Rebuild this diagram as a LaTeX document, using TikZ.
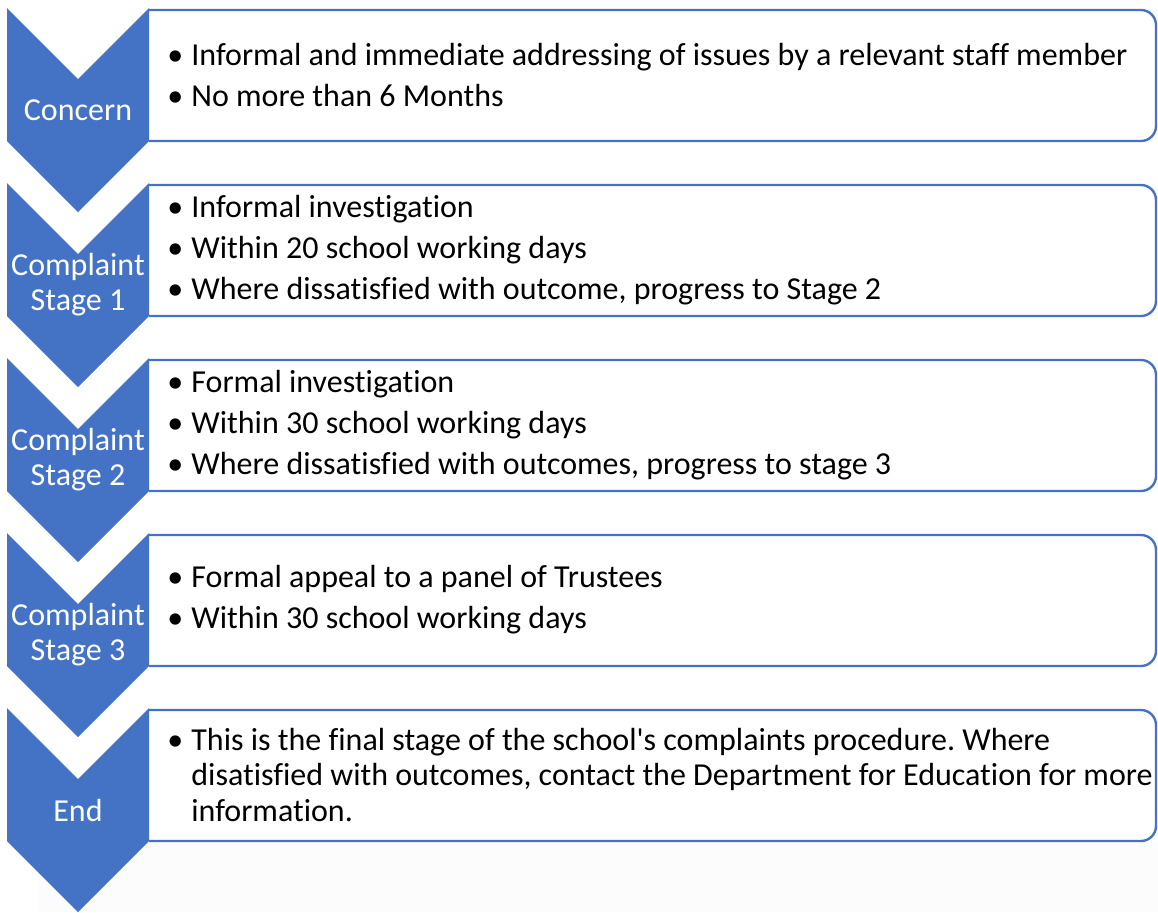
\documentclass[tikz,border=0pt]{standalone}
\usepackage{fontspec}
\setmainfont{Carlito}[Ligatures={NoCommon}]
\usetikzlibrary{positioning}
\definecolor{stageblue}{HTML}{4472C4}
\definecolor{pagegrey}{HTML}{FCFCFC}
\def\stagechevron(#1){\fill[stageblue] (7,#1) -- (78,#1+71) -- (149,#1) -- (149,#1+133) -- (78,#1+204) -- (7,#1+133) -- cycle;}
\def\stagebox(#1){\draw[stageblue, line width=1.2pt, rounded corners=7.5pt] (149,#1+2) -- (1156,#1+2) -- (1156,#1+133) -- (149,#1+133);}
\newcommand\bl{\makebox[12pt][l]{\textbullet}}
\frenchspacing

\begin{document}
\begin{tikzpicture}[x=0.5pt, y=-0.5pt,
    stagelabel/.style={text=white, align=center, inner sep=0pt, font=\fontsize{16}{17.5}\selectfont},
    stageitems/.style={anchor=west, align=left, inner sep=0pt, font=\fontsize{16}{17.75}\selectfont}]
		%%%%% START %%%%%
		
		\useasboundingbox (0,0) rectangle (1158,912);
		\fill[pagegrey] (38,842) rectangle (1158,912);
		
		\stagebox(8)
		\stagebox(183)
		\stagebox(358)
		\stagebox(533)
		\stagebox(708)
		
		\stagechevron(8)
		\stagechevron(183)
		\stagechevron(358)
		\stagechevron(533)
		\stagechevron(708)
		
		\node[stagelabel] (concern) at (78,110) {Concern};
		\node[stagelabel] (stage1) at (78,285) {Complaint\\Stage 1};
		\node[stagelabel] (stage2) at (78,460) {Complaint\\Stage 2};
		\node[stagelabel] (stage3) at (78,635) {Complaint\\Stage 3};
		\node[stagelabel] (end) at (78,810) {End};
		
		\node[stageitems] (concernitems) at (167,75) {\bl Informal and immediate addressing of issues by a relevant staff member\\[2.75pt]
			\bl No more than 6 Months};
		\node[stageitems] (stage1items) at (167,250) {\bl Informal investigation\\[2.75pt]
			\bl Within 20 school working days\\[2.75pt]
			\bl Where dissatisfied with outcome, progress to Stage 2};
		\node[stageitems] (stage2items) at (167,425) {\bl Formal investigation\\[2.75pt]
			\bl Within 30 school working days\\[2.75pt]
			\bl Where dissatisfied with outcomes, progress to stage 3};
		\node[stageitems] (stage3items) at (167,600) {\bl Formal appeal to a panel of Trustees\\[2.75pt]
			\bl Within 30 school working days};
		\node[stageitems] (enditems) at (167,775) {\bl This is the final stage of the school\textquotesingle s complaints procedure. Where\\
			\hspace*{12pt}disatisfied with outcomes, contact the Department for Education for more\\
			\hspace*{12pt}information.};
		
		%%%%% END %%%%%
\end{tikzpicture}
\end{document}
